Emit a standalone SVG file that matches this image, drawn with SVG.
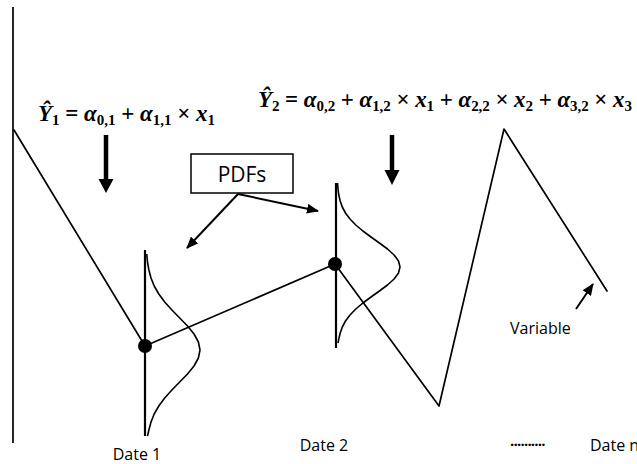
<svg xmlns="http://www.w3.org/2000/svg" width="637" height="464" viewBox="0 0 637 464">
<style>
.ln{fill:none;stroke:#000;stroke-width:1.7;stroke-linejoin:round;stroke-linecap:round}
.pdf{fill:none;stroke:#000;stroke-width:1.6;stroke-linejoin:round}
.dot{fill:#000}
.lab{font-family:"Open Sans","Liberation Sans",sans-serif;font-size:16px;fill:#000}
.eq{font-family:"Liberation Serif",serif;font-size:23px;font-weight:bold;fill:#000}
.v{font-style:italic}
.s{font-size:15px}
.arr{stroke:#000;stroke-width:2;fill:none}
.big{stroke:#000;stroke-width:4.5;fill:none}
</style>
<defs>
<marker id="ah" markerUnits="userSpaceOnUse" markerWidth="12" markerHeight="10" refX="11" refY="5" orient="auto">
<path d="M0,0 L12,5 L0,10 z" fill="#000"/>
</marker>
</defs>
<rect width="637" height="464" fill="#fff"/>
<g id="axis"><line x1="13" y1="7" x2="13" y2="443" stroke="#000" stroke-width="1.7"/></g>
<g id="variable-line"><polyline class="ln" points="14,130 145,346 335,264 439,406 504,129 607,291"/></g>
<g id="date1">
<line x1="145" y1="250" x2="145" y2="436" stroke="#000" stroke-width="2.2"/>
<polyline class="pdf" points="146.7,254 147.5,262 148.9,270 151,278 154.2,286 158.8,294 164.7,302 171.9,310 179.7,318 187.5,326 194,334 198.4,342 200,350 198.4,358 194,366 187.5,374 179.7,382 171.9,390 164.7,398 158.8,406 154.2,414 151,422 148.9,430 147.5,436"/>
<circle class="dot" cx="145" cy="346" r="7"/>
</g>
<g id="date2">
<line x1="336" y1="183" x2="336" y2="348" stroke="#000" stroke-width="2.2"/>
<polyline class="pdf" points="337.5,183 338,189 338.8,195 340.2,201 342.3,207 345.5,213 350,219 355.8,225 362.9,231 371,237 379.4,243 387.5,249 394.1,255 398.5,261 400,267 398.5,273 394.1,279 387.5,285 379.4,291 371,297 362.9,303 355.8,309 350,315 345.5,321 342.3,327 340.2,333 338.8,339 338,343"/>
<circle class="dot" cx="335" cy="264" r="7"/>
</g>
<g id="pdfs">
<rect x="191" y="154" width="102" height="39" fill="#fff" stroke="#000" stroke-width="1.5"/>
<text class="lab" x="242" y="182" text-anchor="middle" style="font-size:21px">PDFs</text>
</g>
<g id="eq1">
<text class="eq" x="38" y="121" textLength="177" lengthAdjust="spacing"><tspan class="v">Ŷ</tspan><tspan class="s" dy="4">1</tspan><tspan dy="-4"> = </tspan><tspan class="v">α</tspan><tspan class="s" dy="4">0,1</tspan><tspan dy="-4"> + </tspan><tspan class="v">α</tspan><tspan class="s" dy="4">1,1</tspan><tspan dy="-4"> × </tspan><tspan class="v">x</tspan><tspan class="s" dy="4">1</tspan></text>
</g>
<g id="eq2">
<text class="eq" x="258" y="107" textLength="374" lengthAdjust="spacing"><tspan class="v">Ŷ</tspan><tspan class="s" dy="4">2</tspan><tspan dy="-4"> = </tspan><tspan class="v">α</tspan><tspan class="s" dy="4">0,2</tspan><tspan dy="-4"> + </tspan><tspan class="v">α</tspan><tspan class="s" dy="4">1,2</tspan><tspan dy="-4"> × </tspan><tspan class="v">x</tspan><tspan class="s" dy="4">1</tspan><tspan dy="-4"> + </tspan><tspan class="v">α</tspan><tspan class="s" dy="4">2,2</tspan><tspan dy="-4"> × </tspan><tspan class="v">x</tspan><tspan class="s" dy="4">2</tspan><tspan dy="-4"> + </tspan><tspan class="v">α</tspan><tspan class="s" dy="4">3,2</tspan><tspan dy="-4"> × </tspan><tspan class="v">x</tspan><tspan class="s" dy="4">3</tspan></text>
</g>
<g id="labels">
<text class="lab" x="137" y="460" text-anchor="middle">Date 1</text>
<text class="lab" x="324" y="451" text-anchor="middle">Date 2</text>
<text class="lab" x="510" y="446" style="font-size:15px;letter-spacing:-0.8px;font-weight:bold">..........</text>
<text class="lab" x="590" y="451">Date n</text>
<text class="lab" x="510" y="334">Variable</text>
</g>
<g id="connectors">
<line class="big" x1="106" y1="135" x2="106" y2="181"/>
<polygon points="98.5,179 113.5,179 106,193" fill="#000"/>
<line class="big" x1="392" y1="135" x2="392" y2="172"/>
<polygon points="384.5,170 399.5,170 392,185" fill="#000"/>
<line class="arr" x1="238" y1="194" x2="187" y2="248" marker-end="url(#ah)"/>
<line class="arr" x1="238" y1="194" x2="318" y2="211" marker-end="url(#ah)"/>
<line class="arr" x1="576" y1="309" x2="593" y2="284" marker-end="url(#ah)"/>
</g>
</svg>
